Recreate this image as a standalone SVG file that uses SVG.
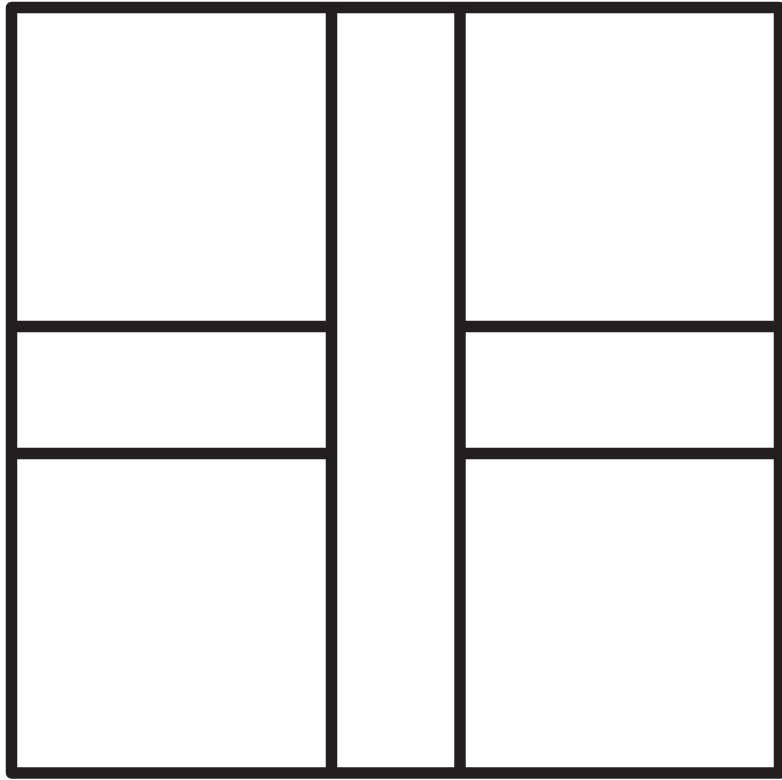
<svg xmlns="http://www.w3.org/2000/svg" width="782" height="780" viewBox="0 0 782 780">
<style>
.l{stroke:#231f20;stroke-width:11.5;fill:none;stroke-linejoin:round;stroke-linecap:butt}
</style>
<rect width="782" height="780" fill="#ffffff"/>
<g id="frame"><rect class="l" x="11.5" y="7.5" width="768" height="765.5"/></g>
<g id="walls">
<line class="l" x1="331.5" y1="7.5" x2="331.5" y2="773"/>
<line class="l" x1="460" y1="7.5" x2="460" y2="773"/>
<line class="l" x1="11.5" y1="326.5" x2="331.5" y2="326.5"/>
<line class="l" x1="11.5" y1="453.5" x2="331.5" y2="453.5"/>
<line class="l" x1="460" y1="326.5" x2="779.5" y2="326.5"/>
<line class="l" x1="460" y1="453.5" x2="779.5" y2="453.5"/>
</g>
</svg>
